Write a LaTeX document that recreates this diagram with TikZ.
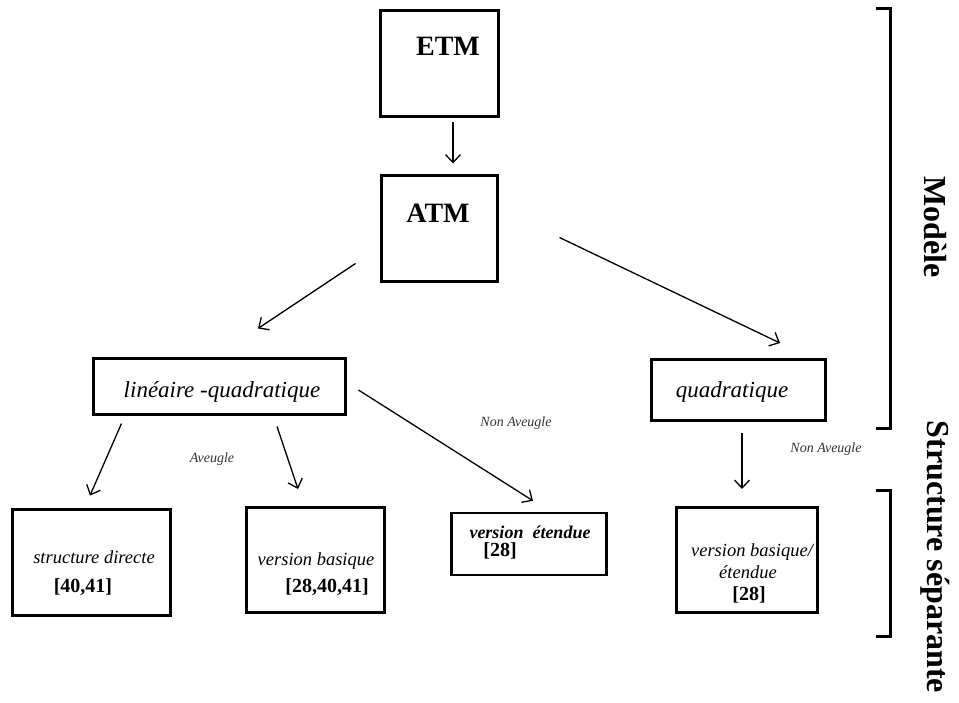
\documentclass[tikz,border=0pt]{standalone}
\usepackage{fontspec}
\setmainfont{Liberation Serif}
\usetikzlibrary{arrows.meta,calc}

\tikzset{
  frame/.style={draw=black, line width=3pt, inner sep=0pt, fill=white},
  thinframe/.style={draw=black, line width=2.4pt, inner sep=0pt, fill=white},
  arr/.style={line width=1.3pt, -{Straight Barb[length=8pt,width=15pt,line width=1.3pt]}},
  title/.style={font=\fontsize{28}{30}\selectfont\bfseries, anchor=base, inner sep=0pt},
  kind/.style={font=\fontsize{23}{26}\selectfont\itshape, anchor=base, inner sep=0pt},
  leaf/.style={font=\fontsize{18.5}{21}\selectfont\itshape, anchor=base, inner sep=0pt},
  ref/.style={font=\fontsize{20}{22}\selectfont\bfseries, anchor=base, inner sep=0pt},
  edge/.style={font=\fontsize{14}{16}\selectfont\itshape, text=black!80, inner sep=0pt},
  side/.style={font=\fontsize{32}{34}\selectfont\bfseries, rotate=-90, inner sep=0pt},
  brace/.style={line width=3pt}
}

\begin{document}
\begin{tikzpicture}[x=1pt, y=-1pt]
\useasboundingbox (0,0) rectangle (959,702);
\fill[white] (0,0) rectangle (959,702);

% model boxes
\node[frame, minimum width=118pt, minimum height=106pt] (etm) at (439,63) {};
\node[title] (etmtxt) at (448,55) {ETM};
\node[frame, minimum width=116pt, minimum height=106pt] (atm) at (439,228) {};
\node[title] (atmtxt) at (438,222) {ATM};

\node[frame, minimum width=252pt, minimum height=56pt] (lin) at (219,386) {};
\node[kind] (lintxt) at (222,397) {linéaire -quadratique};
\node[frame, minimum width=174pt, minimum height=61pt] (quad) at (738,390) {};
\node[kind] (quadtxt) at (732,397) {quadratique};

% separating structure boxes
\node[frame, minimum width=158pt, minimum height=106pt] (sd) at (91,562) {};
\node[leaf] (sdtxt) at (94,563) {structure directe};
\node[ref] (sdref) at (83,592) {[40,41]};

\node[frame, minimum width=138pt, minimum height=105pt] (vb) at (315,560) {};
\node[leaf] (vbtxt) at (316,565) {version basique};
\node[ref] (vbref) at (327,592) {[28,40,41]};

\node[thinframe, minimum width=155pt, minimum height=62pt] (ve) at (529,544) {};
\node[leaf, font=\fontsize{18}{20}\selectfont\bfseries\itshape] (vetxt) at (530,538) {version\ \ étendue};
\node[ref] (veref) at (500,556) {[28]};

\node[frame, minimum width=141pt, minimum height=105pt] (vbe) at (747,560) {};
\node[leaf] (vbetxt1) at (752,556) {version basique/};
\node[leaf] (vbetxt2) at (748,578) {étendue};
\node[ref] (vberef) at (749,600) {[28]};

% connectors
\draw[arr] ($(etm.south)+(14,4)$) -- ($(atm.north)+(14,-10)$);
\draw[arr] ($(atm.south west)+(-24,-19)$) -- ($(lin.north)+(39,-28)$);
\draw[arr] ($(atm.south east)+(61,-45)$) -- ($(quad.north)+(42,-15)$);
\draw[arr] ($(lin.south west)+(30,8)$) -- ($(sd.north)+(-1,-12)$);
\draw[arr] ($(lin.south)+(58,11)$) -- ($(vb.north)+(-17,-17)$);
\draw[arr] ($(lin.east)+(12,4)$) -- ($(ve.north)+(4,-11)$);
\draw[arr] ($(quad.south)+(4,11)$) -- ($(vbe.north)+(-5,-17)$);

% edge labels
\node[edge] (blind) at (212,459) {Aveugle};
\node[edge] (nonblind1) at (516,423) {Non Aveugle};
\node[edge] (nonblind2) at (826,449) {Non Aveugle};

% brackets on the right
\coordinate (m1) at (876,8);
\coordinate (m2) at (890,8);
\coordinate (m3) at (890,428);
\coordinate (m4) at (876,428);
\draw[brace] (m1) -- (m2) -- (m3) -- (m4);
\coordinate (s1) at (876,490);
\coordinate (s2) at (890,490);
\coordinate (s3) at (890,636);
\coordinate (s4) at (876,636);
\draw[brace] (s1) -- (s2) -- (s3) -- (s4);

\node[side] (modele) at (935,227) {Modèle};
\node[side] (structure) at (935,557) {Structure séparante};
\end{tikzpicture}
\end{document}
